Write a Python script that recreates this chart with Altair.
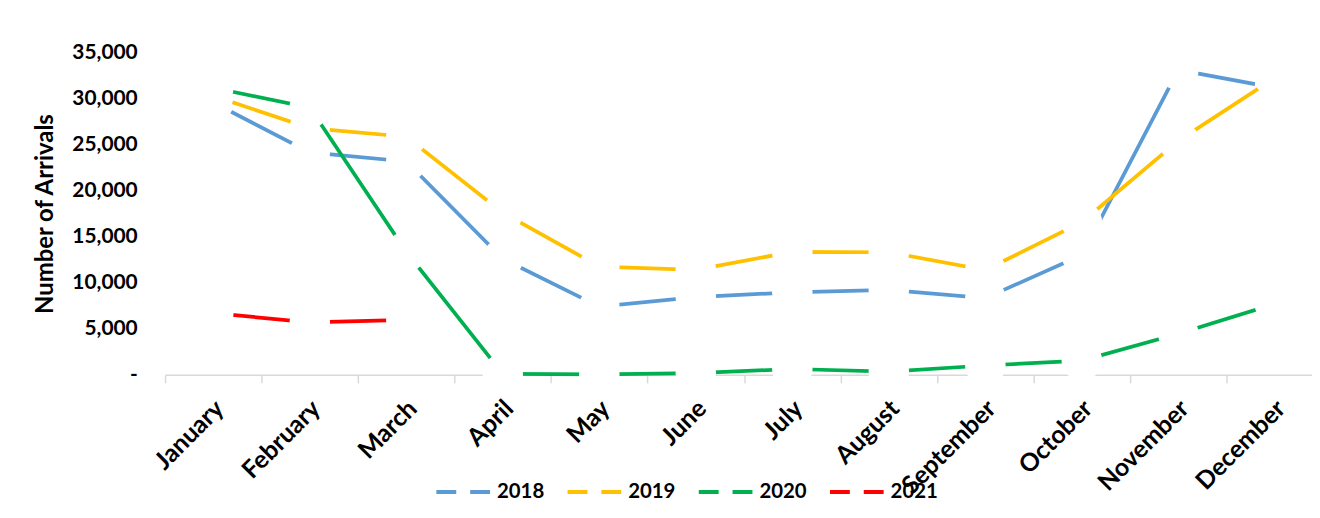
import altair as alt
import pandas as pd

months = ["January", "February", "March", "April", "May", "June", "July",
          "August", "September", "October", "November", "December"]
years = ["2018", "2019", "2020", "2021"]
arrivals_2018 = [29550, 24130, 23150, 12590, 7400, 8440, 8950, 9220, 8320, 13000, 33100, 31150]
arrivals_2019 = [30270, 26775, 25840, 17590, 11750, 11400, 13340, 13300, 11370, 16570, 25390, 32230]
arrivals_2020 = [31150, 29000, 13350, 100, 50, 180, 630, 340, 1010, 1550, 4450, 7700]
arrivals_2021 = [6690, 5700, 5950]
colors = ["#5B9BD5", "#FFC000", "#00B050", "#FF0000"]

series = {"2018": arrivals_2018, "2019": arrivals_2019,
          "2020": arrivals_2020, "2021": arrivals_2021}
rows = []
for yr, vals in series.items():
    for i, v in enumerate(vals):
        rows.append({"year": yr, "month": months[i], "idx": i, "arrivals": v})
df = pd.DataFrame(rows)

FONT = "Lato"
month_expr = "[" + ",".join("'%s'" % m for m in months) + "][datum.value]"

x_enc = alt.X(
    "xc:Q",
    scale=alt.Scale(domain=[0, 11.885], nice=False, zero=False),
    axis=alt.Axis(
        values=list(range(12)), labelExpr=month_expr, title=None,
        labelAngle=-45, labelAlign="right", labelBaseline="top",
        labelOffset=46, labelPadding=13, labelOverlap=False, labelFlush=False,
        labelFont=FONT, labelFontWeight="bold", labelFontSize=25, labelColor="black",
        domainColor="#D9D9D9", domainWidth=1.5, tickColor="#D9D9D9",
        tickWidth=1.5, tickSize=8, grid=False,
    ),
)
y_enc = alt.Y(
    "arrivals:Q",
    scale=alt.Scale(domain=[0, 35000], nice=False),
    axis=alt.Axis(
        values=list(range(0, 35001, 5000)),
        labelExpr="datum.value == 0 ? '-\u00a0\u00a0\u00a0' : format(datum.value, ',')",
        domain=False, ticks=False, tickSize=0, grid=False,
        labelFont=FONT, labelFontWeight="bold", labelFontSize=21, labelColor="black",
        labelPadding=28,
        title="Number of Arrivals", titleFont=FONT, titleFontSize=24,
        titleFontWeight="bold", titleColor="black", titlePadding=14,
    ),
)
color_enc = alt.Color(
    "year:N",
    scale=alt.Scale(domain=years, range=colors),
    legend=alt.Legend(
        title=None, orient="none", legendX=271, legendY=413, direction="horizontal",
        symbolType="stroke", symbolSize=3025, symbolDash=[20, 14], symbolStrokeWidth=4,
        labelFont=FONT, labelFontWeight="bold", labelFontSize=20.5, labelColor="black",
        labelOffset=4, columnPadding=15, padding=0,
    ),
)

base = alt.Chart(df).transform_calculate(xc="datum.idx + 0.5")
layers = []
for yr in years:
    b = base.transform_filter(alt.datum.year == yr)
    layers.append(
        b.mark_line(strokeWidth=3.75).encode(
            x=x_enc, y=y_enc, color=color_enc, order="idx:Q"
        )
    )
    layers.append(
        b.mark_circle(color="white", opacity=1, size=1662, strokeWidth=0).encode(
            x=x_enc, y=y_enc
        )
    )

chart = alt.layer(*layers).properties(
    width=1154, height=324.5,
    padding={"left": 158, "top": 43, "right": 0, "bottom": 142.5},
    autosize=alt.AutoSizeParams(type="none"),
    background="white",
).configure_view(stroke=None)

chart.save("out.html", embed_options={"renderer": "svg", "actions": False})
